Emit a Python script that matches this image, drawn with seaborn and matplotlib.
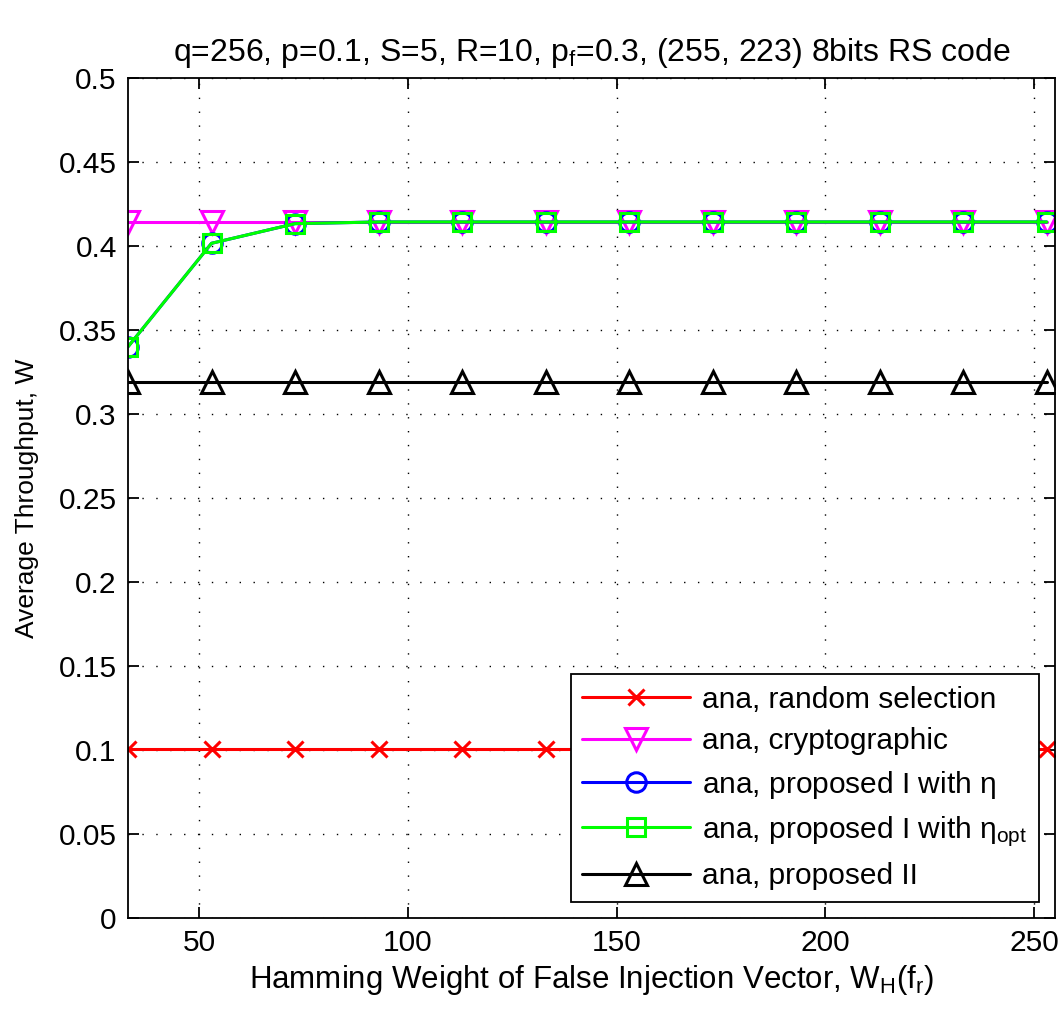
import matplotlib
matplotlib.use("Agg")
import matplotlib.pyplot as plt
import numpy as np
import pandas as pd
import seaborn as sns

# Hamming weight of the false injection vector
hamming_weight = [33, 53, 73, 93, 113, 133, 153, 173, 193, 213, 233, 253]

# Average throughput per scheme
thr_random = [0.1005] * 12
thr_crypto = [0.4143] * 12
thr_prop1_eta = [0.340, 0.4016, 0.4133, 0.4143, 0.4143, 0.4143, 0.4143,
                 0.4143, 0.4143, 0.4143, 0.4143, 0.4143]
thr_prop1_eta_opt = [0.340, 0.4016, 0.4133, 0.4143, 0.4143, 0.4143, 0.4143,
                     0.4143, 0.4143, 0.4143, 0.4143, 0.4143]
thr_prop2 = [0.319] * 12

labels = [
    "ana, random selection",
    "ana, cryptographic",
    r"ana, proposed I with $\mathregular{\eta}$",
    r"ana, proposed I with $\mathregular{\eta_{opt}}$",
    "ana, proposed II",
]
series = [thr_random, thr_crypto, thr_prop1_eta, thr_prop1_eta_opt, thr_prop2]
colors = ["#ff0000", "#ff00ff", "#0000ff", "#00ff00", "#000000"]
markers = ["x", "v", "o", "s", "^"]
msizes = [11, 16, 14, 13, 16]

sns.set_theme(style="white")
plt.rcParams["font.family"] = ["Liberation Sans", "DejaVu Sans"]
plt.rcParams["mathtext.fontset"] = "custom"
plt.rcParams["mathtext.rm"] = "Liberation Sans"
plt.rcParams["mathtext.it"] = "Liberation Sans"
plt.rcParams["text.color"] = "black"
plt.rcParams["axes.labelcolor"] = "black"

fig = plt.figure(figsize=(10.63, 10.09), dpi=100)
ax = fig.add_axes([0.1204, 0.0902, 0.8721, 0.8325])

for lab, ys, c, m, ms in zip(labels, series, colors, markers, msizes):
    df = pd.DataFrame({"x": hamming_weight, "y": ys})
    sns.lineplot(data=df, x="x", y="y", ax=ax, color=c, marker=m,
                 markersize=ms, markerfacecolor="none", markeredgecolor=c,
                 markeredgewidth=2.2, linewidth=2.2, label=lab)

ax.set_xlim(33, 255)
ax.set_ylim(0, 0.5)
ax.set_xticks([50, 100, 150, 200, 250])
ax.set_yticks(np.arange(0, 0.501, 0.05))
ax.set_yticklabels(["0", "0.05", "0.1", "0.15", "0.2", "0.25", "0.3",
                    "0.35", "0.4", "0.45", "0.5"])
ax.tick_params(direction="in", length=8, width=1.3, labelsize=21.5,
               top=True, right=True, bottom=True, left=True, pad=8,
               colors="black")
ax.grid(True, color="black", linestyle=(0, (1, 9)), linewidth=1.0)
for sp in ax.spines.values():
    sp.set_color("black")
    sp.set_linewidth(1.3)

ax.set_title(r"q=256, p=0.1, S=5, R=10, $\mathregular{p_f}$=0.3, (255, 223) 8bits RS code",
             fontsize=23, pad=12, color="black")
ax.set_xlabel(r"Hamming Weight of False Injection Vector, $\mathregular{W_H(f_r)}$",
              fontsize=22.5, labelpad=4)
ax.set_ylabel("Average Throughput, W", fontsize=19, labelpad=14)

leg = ax.legend(loc="lower right", bbox_to_anchor=(0.9828, 0.019),
                fontsize=21.5, frameon=True, fancybox=False, edgecolor="black",
                framealpha=1.0, handlelength=3.6, handletextpad=0.4,
                labelspacing=0.45, borderpad=0.4, borderaxespad=0)
leg.get_frame().set_linewidth(1.3)

fig.savefig("out.png", dpi=100, facecolor="white")
